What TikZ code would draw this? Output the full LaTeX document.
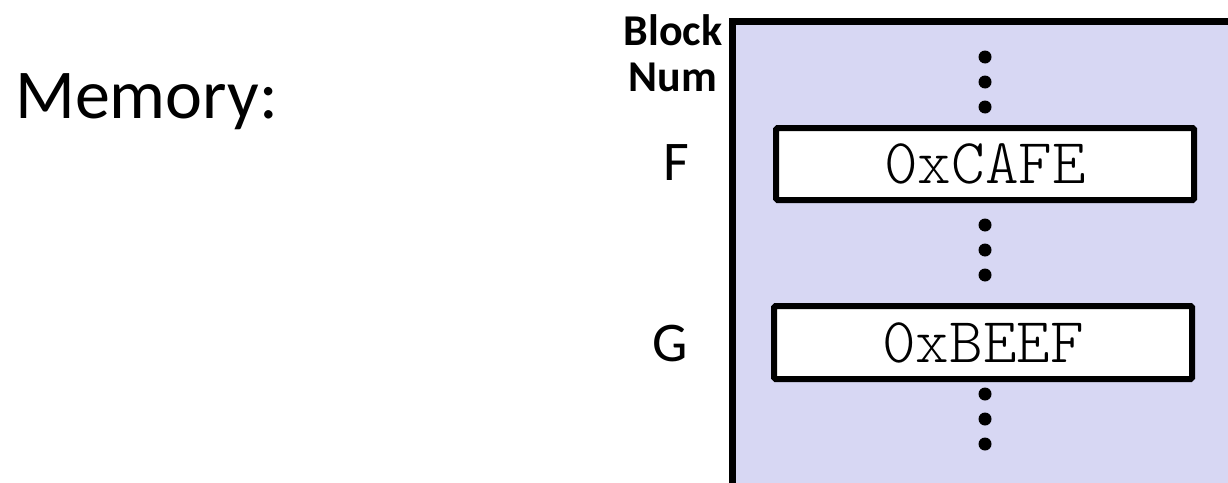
\documentclass[tikz,border=0pt]{standalone}
\usepackage{fontspec}
\setmainfont{Carlito}
\definecolor{memfill}{RGB}{215,215,243}
\begin{document}
\begin{tikzpicture}[x=1pt,y=-1pt,
  cell/.style={draw=black, line width=6pt, fill=white, rounded corners=1.5pt,
    minimum width=418pt, minimum height=72pt, inner sep=0pt,
    font=\ttfamily\fontseries{l}\fontsize{64}{66}\selectfont},
  dotmark/.style={fill=black, draw=none},
  lbl/.style={font=\fontsize{56}{60}\selectfont, inner sep=0pt, anchor=base}
]
\useasboundingbox (0,0) rectangle (1228,482);
% memory region
\fill[memfill] (732,21) rectangle (1240,495);
\draw[line width=7pt] (732,495) -- (732,21) -- (1240,21);
% title
\node[lbl, anchor=base west, font=\fontsize{70}{72}\selectfont] (title) at (15,118) {Memory:};
% header
\node[align=center, inner sep=0pt, font=\bfseries\fontsize{44}{46}\selectfont] (hdr) at (673,53) {Block\\Num};
% cells
\node[cell] (cafe) at (985,164) {0xCAFE};
\node[cell, minimum height=73pt] (beef) at (983,342.5) {0xBEEF};
% labels
\node[lbl] (f) at (676,180) {F};
\node[lbl] (g) at (670,361) {G};
% dots
\foreach \yy in {57,82,107,225,250,275,394,419,444}
  \fill[dotmark] (985,\yy) circle (6.5);
\end{tikzpicture}
\end{document}
